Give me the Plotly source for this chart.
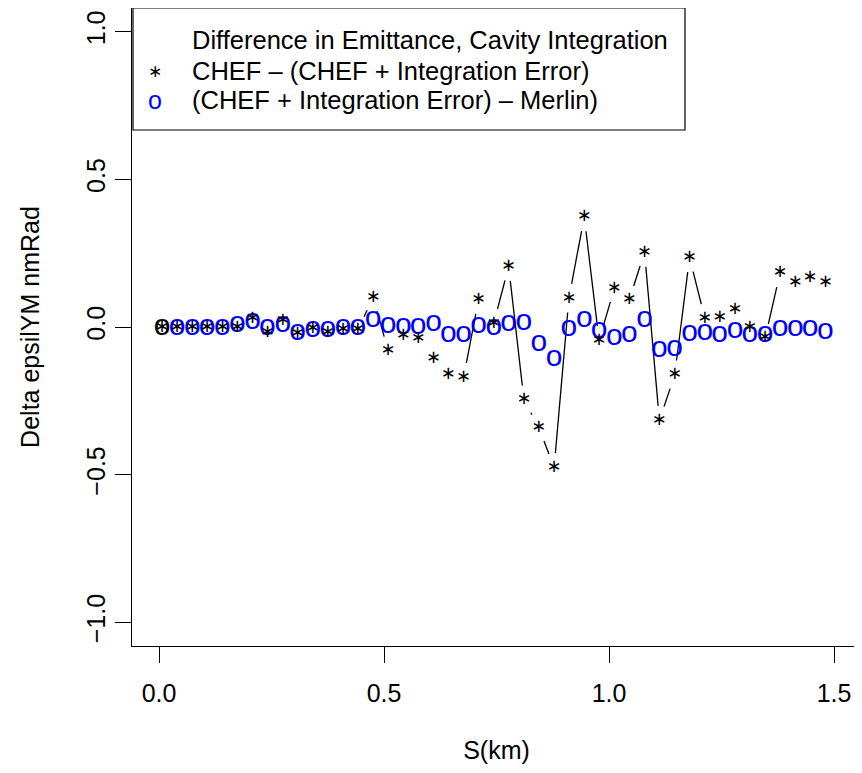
import math
import plotly.graph_objects as go

# ---------------- data ----------------
s_km = [0.007, 0.040, 0.074, 0.107, 0.141, 0.174, 0.208, 0.241, 0.275, 0.308,
        0.342, 0.375, 0.409, 0.442, 0.476, 0.509, 0.543, 0.576, 0.610, 0.643,
        0.677, 0.710, 0.744, 0.777, 0.811, 0.844, 0.878, 0.911, 0.945, 0.978,
        1.012, 1.045, 1.079, 1.112, 1.146, 1.179, 1.213, 1.246, 1.280, 1.313,
        1.347, 1.380, 1.414, 1.447, 1.481]

chef_minus_err = [0.000, 0.000, 0.000, 0.000, 0.000, 0.000, 0.029, -0.018, 0.022, -0.021,
                  -0.005, -0.018, -0.010, -0.010, 0.101, -0.080, -0.029, -0.040, -0.105, -0.161,
                  -0.170, 0.092, 0.013, 0.205, -0.247, -0.340, -0.476, 0.098, 0.373, -0.046,
                  0.132, 0.092, 0.253, -0.316, -0.162, 0.235, 0.030, 0.033, 0.059, 0.000,
                  -0.037, 0.183, 0.149, 0.169, 0.150]

err_minus_merlin = [0.000, 0.000, 0.000, 0.000, 0.000, 0.008, 0.020, -0.003, 0.008, -0.020,
                    -0.008, -0.008, -0.003, 0.000, 0.025, 0.005, 0.002, 0.002, 0.011, -0.025,
                    -0.025, 0.005, -0.003, 0.011, 0.014, -0.057, -0.108, -0.006, 0.024, -0.012,
                    -0.036, -0.026, 0.024, -0.076, -0.074, -0.022, -0.018, -0.025, -0.012, -0.026,
                    -0.026, -0.006, -0.004, -0.006, -0.014]

x_tick_vals = [0.0, 0.5, 1.0, 1.5]
x_tick_text = ["0.0", "0.5", "1.0", "1.5"]
y_tick_vals = [-1.0, -0.5, 0.0, 0.5, 1.0]
y_tick_text = ["\u22121.0", "\u22120.5", "0.0", "0.5", "1.0"]

legend_title = "Difference in Emittance, Cavity Integration"
legend_star = "CHEF \u2013 (CHEF + Integration Error)"
legend_circle = "(CHEF + Integration Error) \u2013 Merlin)"
x_title = "S(km)"
y_title = "Delta epsilYM nmRad"

# ---------------- layout geometry ----------------
OFF = 8                      # page body margin
W, H = 862 - OFF, 773 - OFF
P_LEFT, P_RIGHT, P_TOP, P_BOTTOM = 132, 861, 8, 646   # plot box in page px
M_L, M_R, M_T, M_B = P_LEFT - OFF, 862 - P_RIGHT, P_TOP - OFF, 773 - P_BOTTOM
X_RANGE = [-0.06, 1.56]
Y_RANGE = [-1.08, 1.08]
PLOT_W = W - M_L - M_R
PLOT_H = H - M_T - M_B
PX_X = PLOT_W / (X_RANGE[1] - X_RANGE[0])
PX_Y = PLOT_H / (Y_RANGE[1] - Y_RANGE[0])
GAP = 14.5  # px gap around points for R type="b"

FONT = "Liberation Sans, Arial, Helvetica, sans-serif"
FS = 25

# R type="b": segments between consecutive points, shortened by GAP at both ends
seg_x, seg_y = [], []
for i in range(len(s_km) - 1):
    x0, x1 = s_km[i], s_km[i + 1]
    y0, y1 = chef_minus_err[i], chef_minus_err[i + 1]
    L = math.hypot((x1 - x0) * PX_X, (y1 - y0) * PX_Y)
    if L > 2 * GAP:
        f = GAP / L
        seg_x += [x0 + f * (x1 - x0), x1 - f * (x1 - x0), None]
        seg_y += [y0 + f * (y1 - y0), y1 - f * (y1 - y0), None]

circle_colors = ["black"] + ["blue"] * (len(s_km) - 1)

fig = go.Figure()
fig.add_trace(go.Scatter(x=seg_x, y=seg_y, mode="lines",
                         line=dict(color="black", width=1.3),
                         hoverinfo="skip", showlegend=False))
fig.add_trace(go.Scatter(x=s_km, y=err_minus_merlin, mode="text",
                         text=["o"] * len(s_km), textposition="middle center",
                         textfont=dict(family=FONT, size=30, color=circle_colors),
                         name=legend_circle, showlegend=False))
fig.add_trace(go.Scatter(x=s_km, y=chef_minus_err, mode="text",
                         text=["\u2217"] * len(s_km), textposition="middle center",
                         textfont=dict(family="DejaVu Sans", size=18, color="black"),
                         name=legend_star, showlegend=False))


def px_to_paper_x(px):
    return (px - P_LEFT) / PLOT_W


def px_to_paper_y(py):
    return (P_BOTTOM - py) / PLOT_H


# legend box
fig.add_shape(type="rect", xref="paper", yref="paper",
              x0=px_to_paper_x(133), x1=px_to_paper_x(685),
              y0=px_to_paper_y(130), y1=1.0,
              line=dict(color="black", width=1.2), fillcolor="white", layer="above")

for txt, py in [(legend_title, 40), (legend_star, 71), (legend_circle, 100)]:
    fig.add_annotation(x=px_to_paper_x(190), y=px_to_paper_y(py), xref="paper", yref="paper",
                       text=txt, showarrow=False, xanchor="left", yanchor="middle",
                       font=dict(family=FONT, size=25.5, color="black"))
fig.add_annotation(x=px_to_paper_x(155), y=px_to_paper_y(71), xref="paper", yref="paper",
                   text="\u2217", showarrow=False, xanchor="center", yanchor="middle",
                   font=dict(family="DejaVu Sans", size=17, color="black"))
fig.add_annotation(x=px_to_paper_x(155), y=px_to_paper_y(100), xref="paper", yref="paper",
                   text="o", showarrow=False, xanchor="center", yanchor="middle",
                   font=dict(family=FONT, size=FS, color="blue"))

axis_common = dict(showline=True, mirror=True, linecolor="black", linewidth=1,
                   ticks="outside", ticklen=16, tickwidth=1, tickcolor="black",
                   showgrid=False, zeroline=False,
                   tickfont=dict(family=FONT, size=FS, color="black"))

fig.update_layout(
    width=W, height=H,
    margin=dict(l=M_L, r=M_R, t=M_T, b=M_B, pad=0, autoexpand=False),
    paper_bgcolor="white", plot_bgcolor="white",
    font=dict(family=FONT, size=FS, color="black"),
    showlegend=False,
    xaxis=dict(range=X_RANGE, tickvals=x_tick_vals, ticktext=x_tick_text,
               ticklabelstandoff=9,
               title=dict(text=x_title, font=dict(family=FONT, size=FS), standoff=35),
               **axis_common),
    yaxis=dict(range=Y_RANGE, tickvals=y_tick_vals, ticktext=y_tick_text,
               tickangle=-90, ticklabelstandoff=0,
               title=dict(text=y_title, font=dict(family=FONT, size=FS), standoff=35),
               **axis_common),
)

fig.write_html("out.html")
